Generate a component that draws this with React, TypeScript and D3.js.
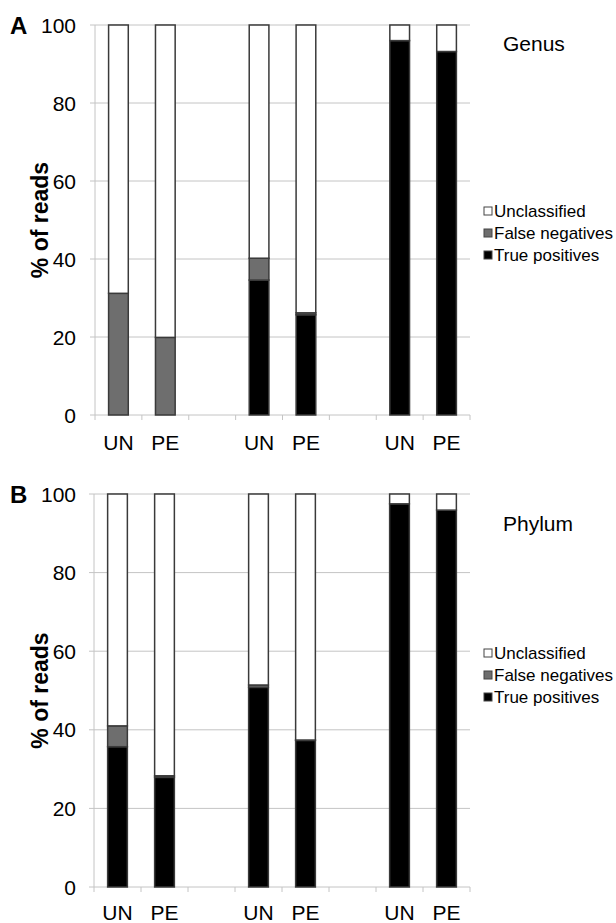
import React from "react";
import * as d3 from "d3";

// slots along the x axis, empty strings are the gaps between groups
const slotLabels = ["UN", "PE", "", "UN", "PE", "", "UN", "PE"];
const yTicks = [0, 20, 40, 60, 80, 100];
const seriesNames = ["True positives", "False negatives", "Unclassified"];
const seriesColors = ["#000000", "#6e6e6e", "#ffffff"];

// Genus (panel A), % of reads, null = gap slot
const genusTruePositives = [0, 0, null, 34.6, 25.7, null, 96.0, 93.2];
const genusFalseNegatives = [31.2, 19.9, null, 5.6, 0.5, null, 0, 0];
const genusUnclassified = [68.8, 80.1, null, 59.8, 73.8, null, 4.0, 6.8];

// Phylum (panel B)
const phylumTruePositives = [35.7, 27.9, null, 50.8, 37.3, null, 97.5, 95.9];
const phylumFalseNegatives = [5.3, 0.4, null, 0.6, 0.1, null, 0, 0];
const phylumUnclassified = [59.0, 71.7, null, 48.6, 62.6, null, 2.5, 4.1];

const font = "'Liberation Sans', Arial, sans-serif";

interface PanelProps {
  letter: string;
  title: string;
  top: number;
  bottom: number;
  left: number;
  right: number;
  tp: (number | null)[];
  fn: (number | null)[];
  un: (number | null)[];
  titleY: number;
  legendY: number;
  labelY: number;
}

const Panel: React.FC<PanelProps> = ({ letter, title, top, bottom, left, right, tp, fn, un, titleY, legendY, labelY }) => {
  const x = d3.scaleBand<number>().domain(d3.range(slotLabels.length)).range([left, right]).padding(0);
  const y = d3.scaleLinear().domain([0, 100]).range([bottom, top]);
  const barW = x.bandwidth() * 0.42;

  const rows = slotLabels
    .map((_, i) => ({ i, tp: tp[i] ?? 0, fn: fn[i] ?? 0, un: un[i] ?? 0, has: tp[i] !== null }))
    .filter((r) => r.has);
  const stack = d3.stack<any>().keys(["tp", "fn", "un"]);
  const layers = stack(rows);

  const tickXs = d3.range(slotLabels.length + 1).map((k) => left + k * x.step());

  return (
    <g>
      <text x={10} y={top + 9} fontFamily={font} fontWeight="bold" fontSize={24}>{letter}</text>
      {/* grid lines + y tick labels */}
      {yTicks.map((t) => (
        <g key={t}>
          <line x1={left - 5} x2={right} y1={y(t)} y2={y(t)} stroke="#c4c4c4" strokeWidth={1} />
          <text x={76} y={y(t)} dy="0.36em" textAnchor="end" fontFamily={font} fontSize={21}>{t}</text>
        </g>
      ))}
      <line x1={left} x2={left} y1={top} y2={bottom} stroke="#c4c4c4" />
      {tickXs.map((tx, k) => (
        <line key={k} x1={tx} x2={tx} y1={bottom} y2={bottom + 5} stroke="#c4c4c4" />
      ))}
      <text
        transform={`translate(48,${(top + bottom) / 2}) rotate(-90)`}
        textAnchor="middle"
        fontFamily={font}
        fontWeight="bold"
        fontSize={23}
      >% of reads</text>
      {/* stacked bars */}
      {layers.map((layer, li) => (
        <g key={li}>
          {layer.map((d: any) => {
            const h = y(d[0]) - y(d[1]);
            if (h <= 0) return null;
            return (
              <rect
                key={d.data.i}
                x={(x(d.data.i) as number) + (x.bandwidth() - barW) / 2}
                y={y(d[1])}
                width={barW}
                height={h}
                fill={seriesColors[li]}
                stroke="#3a3a3a"
                strokeWidth={1.5}
              />
            );
          })}
        </g>
      ))}
      {slotLabels.map((lab, i) => (
        <text key={i} x={(x(i) as number) + x.bandwidth() / 2} y={labelY} textAnchor="middle" fontFamily={font} fontSize={21}>{lab}</text>
      ))}
      <text x={503} y={titleY} fontFamily={font} fontSize={21}>{title}</text>
      {/* legend, top item is Unclassified */}
      {[2, 1, 0].map((si, k) => (
        <g key={si} transform={`translate(484,${legendY + k * 22})`}>
          <rect x={0} y={-4} width={8} height={8} fill={seriesColors[si]} stroke="#444" strokeWidth={1} />
          <text x={10} y={0} dy="0.36em" fontFamily={font} fontSize={17}>{seriesNames[si]}</text>
        </g>
      ))}
    </g>
  );
};

export default function App() {
  return (
    <svg width={616} height={923} style={{ position: "absolute", left: 0, top: 0, background: "#fff" }}>
      <Panel letter="A" title="Genus" top={25} bottom={415} left={95} right={470}
        tp={genusTruePositives} fn={genusFalseNegatives} un={genusUnclassified}
        titleY={51} legendY={211} labelY={450} />
      <Panel letter="B" title="Phylum" top={494} bottom={887} left={94} right={470}
        tp={phylumTruePositives} fn={phylumFalseNegatives} un={phylumUnclassified}
        titleY={531} legendY={653} labelY={920} />
    </svg>
  );
}
